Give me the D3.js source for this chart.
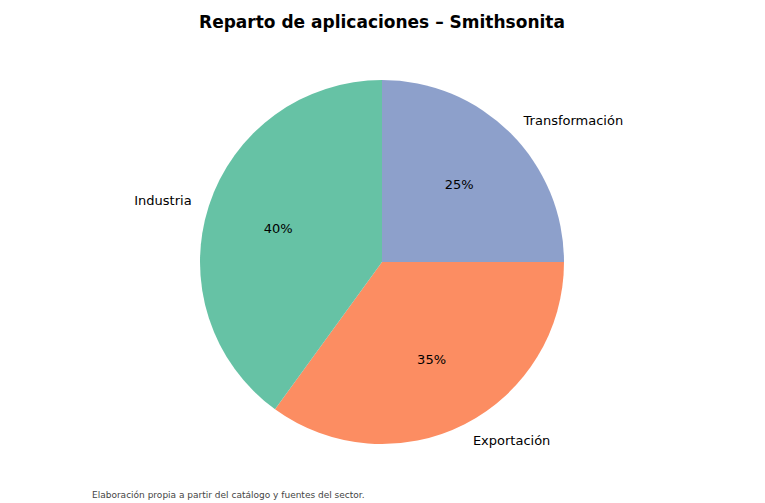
<!DOCTYPE html>
<html><head><meta charset="utf-8">
<script src="https://cdn.jsdelivr.net/npm/d3@7"></script>
<style>body{margin:0;background:#fff}</style></head>
<body><svg id="c" width="765" height="503"></svg>
<script>
const categories = ["Transformación", "Exportación", "Industria"];
const values = [25, 35, 40];
const colors = ["#8da0cb", "#fc8d62", "#66c2a5"];

const svg = d3.select("#c");
const cx = 382, cy = 262, r = 182;
const font = "DejaVu Sans, sans-serif";
svg.append("text").attr("x", 382).attr("y", 28).attr("text-anchor", "middle")
  .attr("font-family", font).attr("font-weight", "bold").attr("font-size", 17).text("Reparto de aplicaciones – Smithsonita");

const pie = d3.pie().sort(null).value(d => d)(values);
const arc = d3.arc().innerRadius(0).outerRadius(r);
const g = svg.append("g").attr("transform", `translate(${cx},${cy})`);
g.selectAll("path").data(pie).join("path").attr("d", arc).attr("fill", (d, i) => colors[i]);
const inner = d3.arc().innerRadius(r * 0.6).outerRadius(r * 0.6);
const outer = d3.arc().innerRadius(r * 1.1).outerRadius(r * 1.1);
g.selectAll(".p").data(pie).join("text").attr("font-family", font).attr("font-size", 13)
  .attr("text-anchor", "middle").attr("dominant-baseline", "central")
  .attr("transform", d => `translate(${inner.centroid(d)})`).text(d => d.data + "%");
g.selectAll(".l").data(pie).join("text").attr("font-family", font).attr("font-size", 13)
  .attr("dominant-baseline", "central")
  .attr("text-anchor", d => { const a = (d.startAngle + d.endAngle) / 2; return a < Math.PI ? "start" : "end"; })
  .attr("transform", d => `translate(${outer.centroid(d)})`).text((d, i) => categories[i]);
svg.append("text").attr("x", 92).attr("y", 498).attr("font-family", font).attr("font-size", 9)
  .attr("fill", "#444").text("Elaboración propia a partir del catálogo y fuentes del sector.");
</script></body></html>
